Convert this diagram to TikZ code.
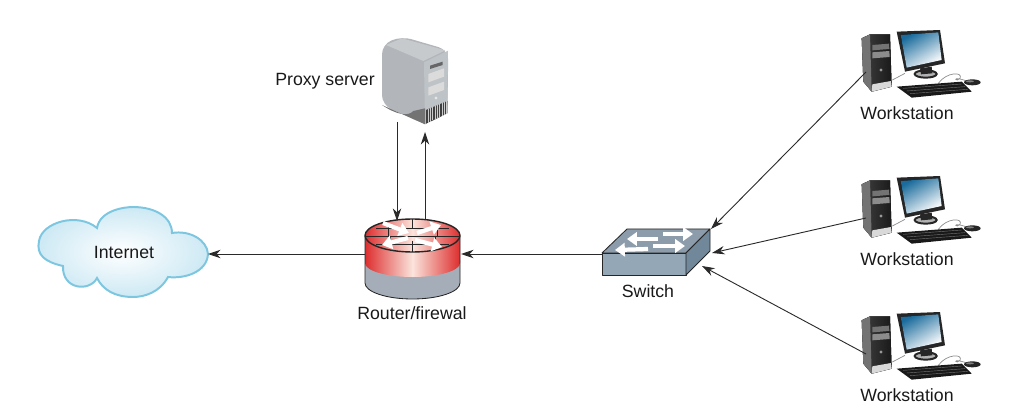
\documentclass[tikz,border=0pt]{standalone}
\usepackage{fontspec}
\setmainfont{Liberation Sans}
\usetikzlibrary{arrows.meta}
\definecolor{linkgray}{HTML}{2A2A2A}
\definecolor{cloudblue}{HTML}{7CC6E0}
\definecolor{cloudfill}{HTML}{CDE9F4}
\definecolor{routerred}{HTML}{DD2E2E}
\definecolor{routergray}{HTML}{A5AEB8}
\definecolor{routerpale}{HTML}{FBE4DC}
\definecolor{switchtop}{HTML}{8C9CAA}
\definecolor{switchfront}{HTML}{93A7B7}
\definecolor{switchside}{HTML}{71879A}
\definecolor{screenblue}{HTML}{1B6C9C}
\definecolor{serverface}{HTML}{B2B6BA}
\definecolor{servertop}{HTML}{C6CACD}
\definecolor{serverside}{HTML}{BEC3C7}
\tikzset{
	link/.style={draw=linkgray, line width=0.65pt, ->, >={Stealth[length=9pt, width=6pt]}},
	label/.style={font=\fontsize{12.6}{14}\selectfont, text=black!90, inner sep=0pt},
	outline/.style={draw=black!85, line width=0.6pt},
	whitearrow/.style={draw=white, line width=3pt, -{Triangle[length=7pt, width=9.5pt, fill=white]}},
	workstation/.pic={
		% tower
		\fill[left color=black!75, right color=black!90] (20,40) -- (45,28) -- (105,28) -- (110,185) -- (50,200) -- (25,170) -- cycle;
		\fill[black!55] (20,40) -- (45,28) -- (50,200) -- (25,170) -- cycle;
		\fill[black!55] (52,60) -- (102,56) -- (103,72) -- (52,76) -- cycle;
		\fill[black!45] (52,82) -- (103,78) -- (104,96) -- (52,100) -- cycle;
		\fill[black!15] (52,178) -- (108,168) -- (110,185) -- (50,200) -- cycle;
		\fill[black!40] (78,135) circle (5);
		% monitor
		\fill[black!85] (125,20) -- (255,15) -- (270,115) -- (150,140) -- cycle;
		\fill[left color=screenblue, right color=white, shading angle=30] (137,30) -- (250,22) -- (260,105) -- (155,128) -- cycle;
		\draw[black!85, line width=1.4pt, fill=black!30] (212,147) ellipse (33 and 11);
		\fill[black!85] (195,130) -- (230,125) -- (232,145) -- (198,148) -- cycle;
		% cables
		\draw[black!45, line width=0.5pt] (112,165) -- (150,145);
		\draw[black!45, line width=0.5pt] (250,175) .. controls (275,140) and (325,140) .. (315,160) .. controls (305,175) and (285,150) .. (335,168);
		% keyboard and mouse
		\fill[black!90] (125,185) -- (320,170) -- (350,200) -- (170,218) -- cycle;
		\draw[black!55, line width=0.3pt] (145,190) -- (320,177) (155,198) -- (330,185) (165,206) -- (338,193);
		\fill[black!85] (352,172) ellipse (25 and 9);
		\fill[black!50] (345,169) ellipse (12 and 3);
		\coordinate (-port) at (33,141);
		\node[label] (-label) at (156,264) {Workstation};
	},
}

\begin{document}
\begin{tikzpicture}[x=0.025cm, y=-0.025cm]
	\useasboundingbox (0,0) rectangle (1024,412);

	% cloud
	\path[draw=cloudblue, line width=1.4pt, inner color=white, outer color=cloudfill]
		(63,266) .. controls (45,262) and (36,255) .. (39,241)
		.. controls (42,222) and (78,212) .. (97,228)
		.. controls (100,210) and (125,207) .. (133,207)
		.. controls (155,207) and (172,217) .. (172,233)
		.. controls (190,230) and (207,240) .. (208,254)
		.. controls (207,272) and (185,279) .. (168,277)
		.. controls (160,292) and (145,297) .. (133,297)
		.. controls (115,297) and (103,290) .. (97,278)
		.. controls (90,292) and (62,290) .. (63,266) -- cycle;
	\node[label] (internet) at (124,252) {Internet};

	% proxy server
	\begin{scope}[shift={(370,25)}, scale=1/3]
		\fill[serverface, rounded corners=7pt] (36,58) -- (95,34) -- (235,75) -- (232,265) -- (165,298) -- (36,240) -- cycle;
		\fill[servertop] (48,60) -- (96,40) -- (226,76) -- (160,108) -- cycle;
		\fill[serverside] (162,112) -- (234,77) -- (232,265) -- (165,298) -- cycle;
		\fill[black!55] (36,240) .. controls (80,270) and (115,275) .. (130,258) -- (165,250) -- (165,298) -- cycle;
		\fill[black!60] (180,122) -- (218,110) -- (218,120) -- (180,132) -- cycle;
		\fill[black!14] (175,147) -- (222,130) -- (222,155) -- (175,172) -- cycle;
		\fill[black!14] (175,187) -- (222,170) -- (222,195) -- (175,212) -- cycle;
		\fill[black!10] (198,219) circle (5);
		\fill[black!75] (168,255) -- (232,228) -- (232,265) -- (168,296) -- cycle;
		\foreach \vx in {174,181,...,230} {
			\draw[black!20, line width=0.5pt] (\vx,{255-(\vx-168)*0.42}) -- (\vx,{296-(\vx-168)*0.48});
		}
	\end{scope}
	\node[label] (proxy) at (325,81) {Proxy server};
	\coordinate (proxyout) at (397,122);
	\coordinate (proxyin) at (425,132);

	% router
	\fill[routergray] (365,260) -- (365,283) arc[start angle=180, end angle=0, x radius=47.5, y radius=16] -- (460,260) -- cycle;
	\shade[left color=routerred, right color=routerred, middle color=routerpale] (365,236) -- (365,263) arc[start angle=180, end angle=0, x radius=47.5, y radius=14] -- (460,236) -- cycle;
	\draw[outline] (365,236) -- (365,283) arc[start angle=180, end angle=0, x radius=47.5, y radius=16] -- (460,236);
	\shade[left color=routerred, right color=routerred, middle color=routerpale] (412.5,235.5) ellipse (47.5 and 16.5);
	\draw[outline, line width=0.4pt] (412.5,219) -- (412.5,229) (412.5,241) -- (412.5,252) (366,236) -- (459,236) (388,226) -- (388,236) (437,226) -- (437,236) (376,228) -- (449,228) (376,244) -- (449,244) (390,236) -- (390,244) (435,236) -- (435,244);
	\draw[outline, line width=1pt] (412.5,235.5) ellipse (47.5 and 16.5);
	\draw[whitearrow] (383,223) -- (409,233);
	\draw[whitearrow] (417,233) -- (441,225);
	\draw[whitearrow] (408,238) -- (382,245);
	\draw[whitearrow] (415,240) -- (442,247);
	\node[label] (router) at (412,313) {Router/firewal};
	\coordinate (routerw) at (365,254);
	\coordinate (routere) at (461,254);
	\coordinate (routerdown) at (397,221);
	\coordinate (routerup) at (425,219);

	% switch
	\draw[outline, fill=switchtop, line join=round] (602,253) -- (627,229) -- (710,229) -- (686,253) -- cycle;
	\draw[outline, fill=switchfront, line join=round] (602,253) -- (686,253) -- (686,275) -- (602,275) -- cycle;
	\draw[outline, fill=switchside, line join=round] (686,253) -- (710,229) -- (710,251) -- (686,275) -- cycle;
	\draw[whitearrow] (658,239) -- (627,239);
	\draw[whitearrow] (648,249) -- (615,250);
	\draw[whitearrow] (663,234) -- (693,234);
	\draw[whitearrow] (653,246) -- (685,246);
	\node[label] (switch) at (648,291) {Switch};
	\coordinate (switchw) at (602,254);
	\coordinate (switcha) at (711,229);
	\coordinate (switchb) at (712,253);
	\coordinate (switchc) at (702,266);

	% workstations
	\foreach \wsname/\wsy in {wsa/25, wsb/171, wsc/307} {
		\pic[scale=1/3] (\wsname) at (855,\wsy) {workstation};
	}

	% links
	\draw[link] (routerw) -- (208,254);
	\draw[link] (switchw) -- (routere);
	\draw[link] (proxyout) -- (routerdown);
	\draw[link] (routerup) -- (proxyin);
	\draw[link] (wsa-port) -- (switcha);
	\draw[link] (wsb-port) -- (switchb);
	\draw[link] (wsc-port) -- (switchc);
\end{tikzpicture}
\end{document}
